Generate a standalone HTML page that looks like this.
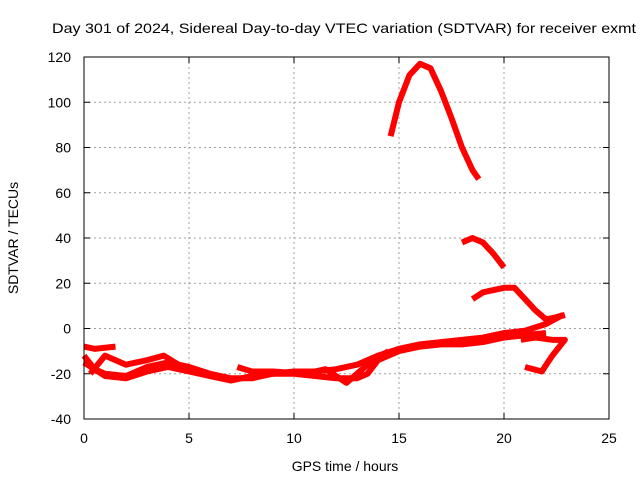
<!DOCTYPE html>
<html><head><meta charset="utf-8"><style>
body{margin:0;background:#fff}
svg{display:block;font-family:"Liberation Sans",sans-serif;font-size:14px}
</style></head><body>
<svg id="c" width="640" height="480">
<text x="344" y="33" text-anchor="middle" textLength="584" lengthAdjust="spacingAndGlyphs">Day 301 of 2024, Sidereal Day-to-day VTEC variation (SDTVAR) for receiver exmt</text>
<text x="345" y="471" text-anchor="middle">GPS time / hours</text>
<text x="0" y="0" transform="translate(18,238) rotate(-90)" text-anchor="middle">SDTVAR / TECUs</text>
<g id="grid"></g><g id="marks"></g>
<rect x="84" y="57" width="525" height="362" fill="none" stroke="#000" stroke-width="1"/>
</svg>
<script>
const xTicks=[0,5,10,15,20,25];
const yTicks=[-40,-20,0,20,40,60,80,100,120];
const t1x=[14.6,15,15.5,16,16.5,17,17.5,18,18.5,18.8];
const t1y=[85,100,112,117,115,105,93,80,70,66];
const t2x=[18,18.5,19,19.5,20];
const t2y=[38,40,38,33,27];
const t3x=[18.5,19,19.5,20,20.5,21,21.5,22,22.5,22.9];
const t3y=[13,16,17,18,18,13,8,4,5,6];
const t4x=[21,21.8,22.3,22.9,22.3,21.5,20.8];
const t4y=[-17,-19,-12,-5,-5,-4,-5];
const t5x=[0,0.5,1.5];
const t5y=[-8,-9,-8];
const t6x=[0,0.5,1,2,3,4,5,6,7,8,9,10,11,12,13,14,15,16,17,18,19,20,21,22,22.8];
const t6y=[-12,-18,-20,-21,-17,-15,-17,-20,-22,-22,-20,-19,-19,-18,-16,-12,-9,-7,-6,-5,-4,-2,-1,2,6];
const t7x=[0,1,2,3,4,5,6,7,8,9,10,11,12,13,13.5,14,15,16,17,18,19,20,21,22];
const t7y=[-15,-21,-22,-19,-17,-19,-21,-23,-21,-20,-20,-21,-22,-22,-20,-14,-10,-8,-7,-7,-6,-4,-3,-2];
const t8x=[0.3,1,2,3,3.8,4.5];
const t8y=[-20,-12,-16,-14,-12,-16];
const t9x=[7.3,8,9,10.5,11.5,12.5,13.5,14.5];
const t9y=[-17,-19,-19,-20,-18,-24,-16,-10];
const tracks=[[t1x,t1y],[t2x,t2y],[t3x,t3y],[t4x,t4y],[t5x,t5y],[t6x,t6y],[t7x,t7y],[t8x,t8y],[t9x,t9y]];
const X=h=>84+h*21, Y=v=>328.5-v*2.2625;
const NS='http://www.w3.org/2000/svg';
const grid=document.getElementById('grid'), marks=document.getElementById('marks');
function mk(tag,at,p){const e=document.createElementNS(NS,tag);for(const k in at)e.setAttribute(k,at[k]);p.appendChild(e);return e;}
xTicks.forEach(t=>{
  const x=X(t);
  if(t>0&&t<25){const g=mk('line',{x1:x,x2:x,y1:57,y2:419,stroke:'#a0a0a0','stroke-dasharray':'2,3'},grid);
  
  }
  mk('line',{x1:x,x2:x,y1:419,y2:413,stroke:'#000'},grid);
  mk('line',{x1:x,x2:x,y1:57,y2:63,stroke:'#000'},grid);
  const l=mk('text',{x:x,y:443,'text-anchor':'middle'},grid);l.textContent=t;
  
  
});
yTicks.forEach(t=>{
  const y=Y(t);
  if(t>-40&&t<120){const g=mk('line',{x1:84,x2:609,y1:y,y2:y,stroke:'#a0a0a0','stroke-dasharray':'2,3'},grid);
  
  }
  mk('line',{x1:84,x2:90,y1:y,y2:y,stroke:'#000'},grid);
  mk('line',{x1:603,x2:609,y1:y,y2:y,stroke:'#000'},grid);
  const l=mk('text',{x:71,y:y+5,'text-anchor':'end'},grid);l.textContent=t;
  
  
});
tracks.forEach(([xs,ys])=>{
  const pts=xs.map((h,i)=>X(h)+','+Y(ys[i])).join(' ');
  const p=mk('polyline',{points:pts,fill:'none',stroke:'#ff0000','stroke-width':6,'stroke-linejoin':'round'},marks);
  
  
});
</script>
</body></html>
